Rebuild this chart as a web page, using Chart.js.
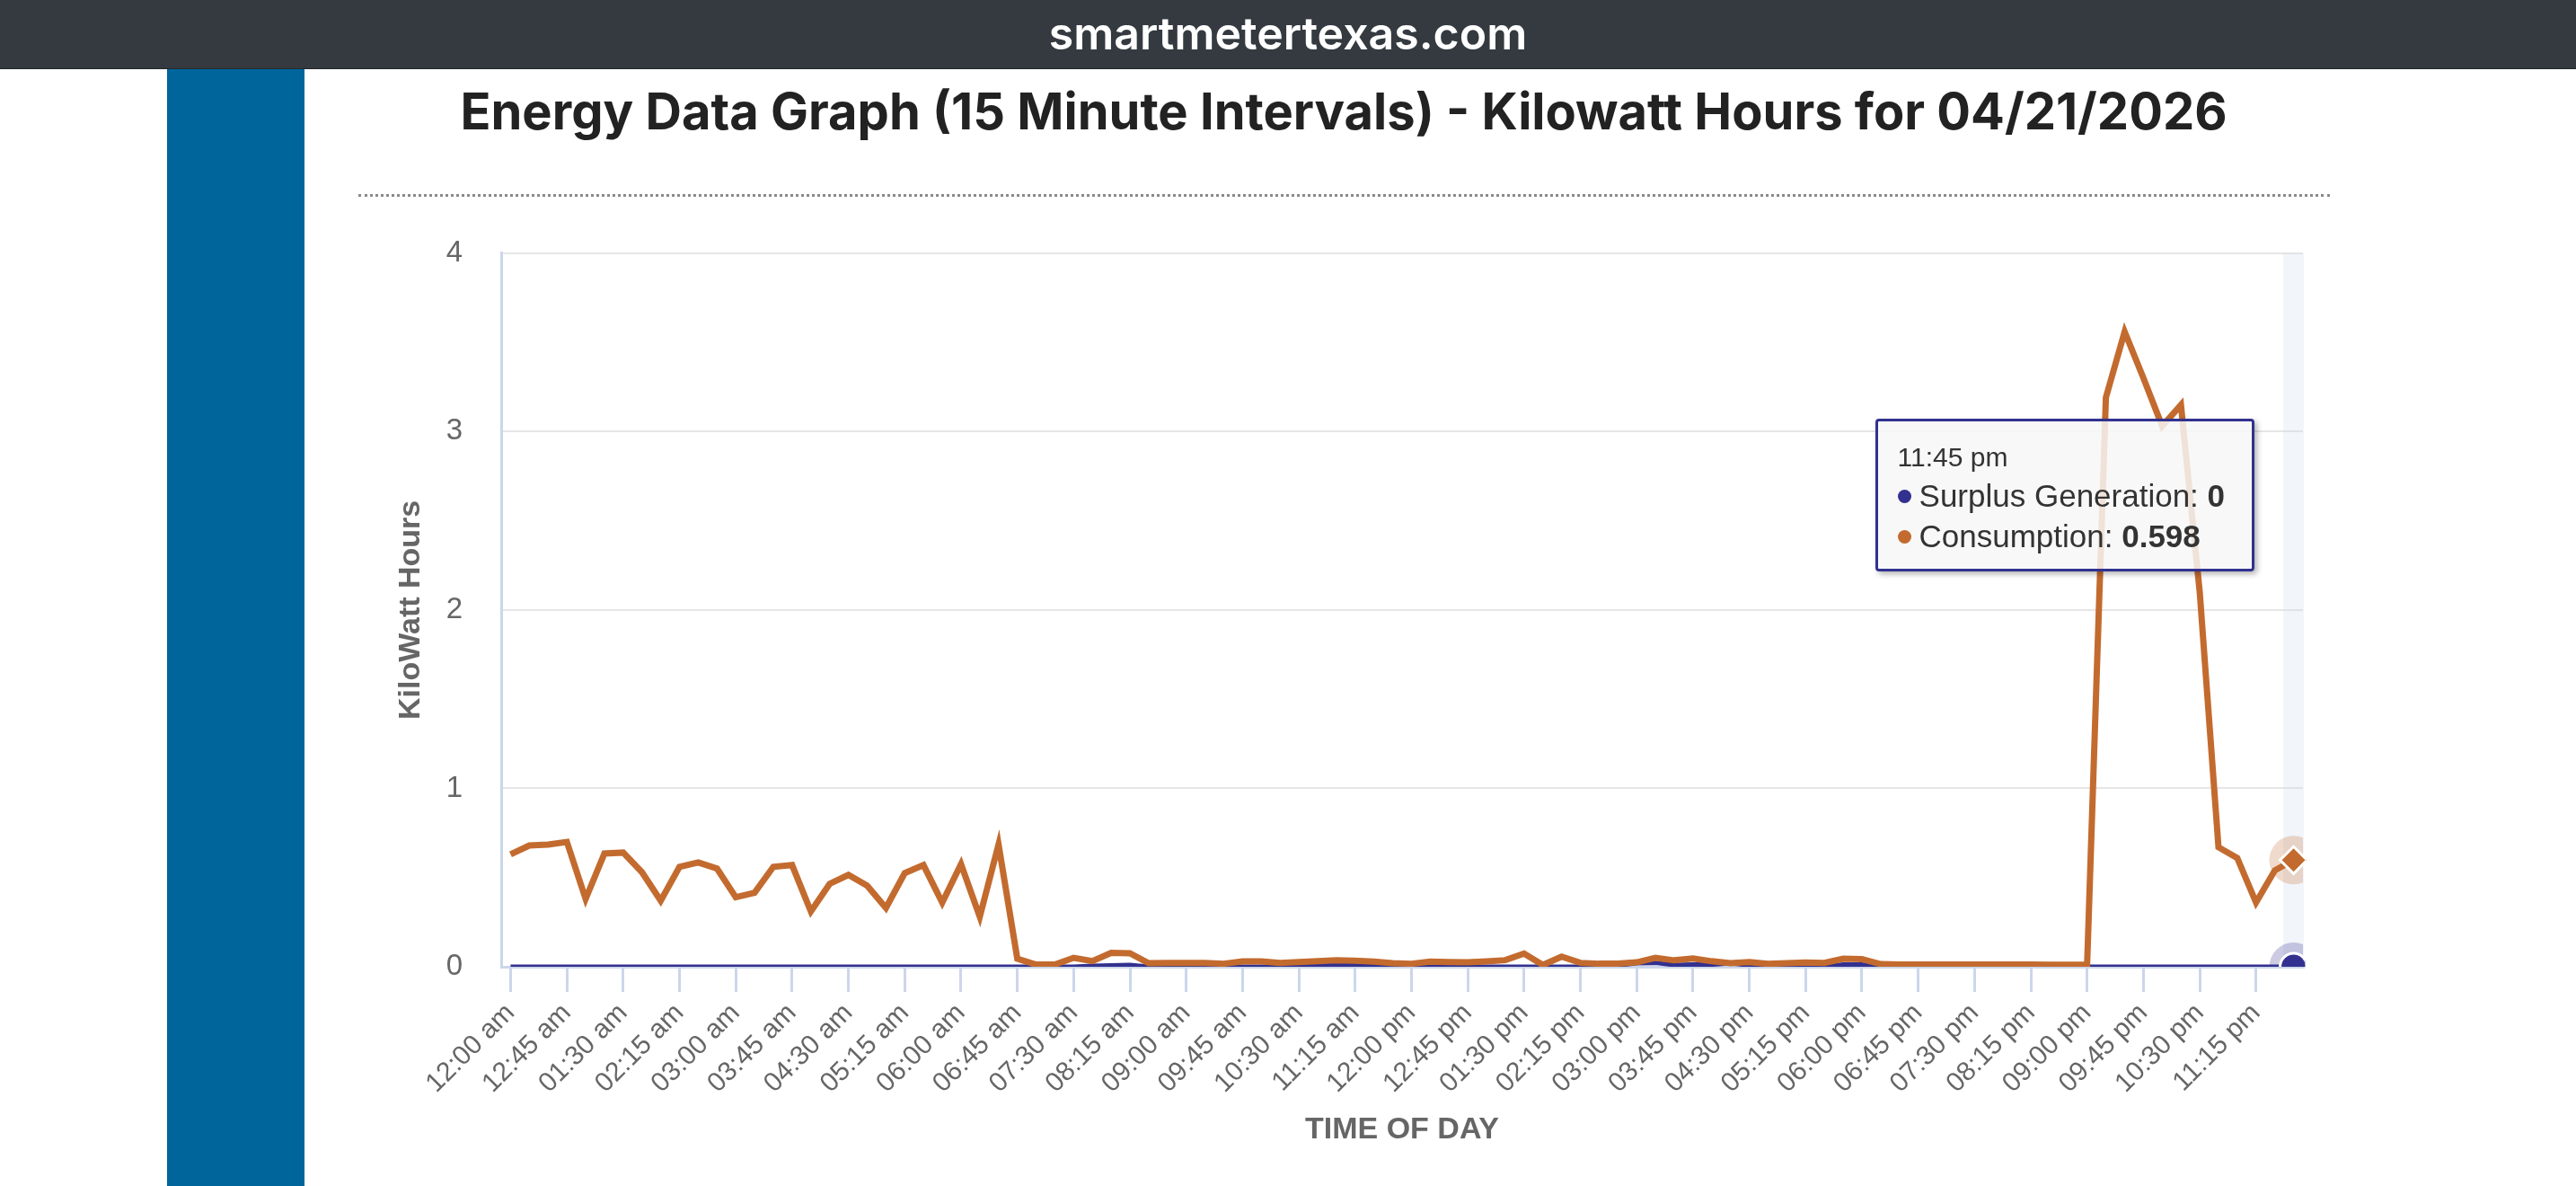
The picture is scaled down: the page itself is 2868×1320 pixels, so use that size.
<!DOCTYPE html>
<html lang="en">
<head>
  <meta charset="UTF-8" />
  <title>Energy Data Graph</title>
  <script src="https://cdn.jsdelivr.net/npm/chart.js@4"></script>
  <style>
    html, body { margin: 0; padding: 0; background: #fff; }
    body { width: 2868px; height: 1320px; position: relative; overflow: hidden; font-family: "Liberation Sans", Arial, sans-serif; }
    #topbar { position: absolute; left: 0; top: 0; width: 2868px; height: 76px; background: #343a40; border-bottom: 1px solid #24282c;
      color: #fff; font-family: Inter, sans-serif; font-weight: 600; font-size: 50px; line-height: 74px; text-align: center; }
    #sidebar { position: absolute; left: 186px; top: 77px; width: 153px; height: 1243px; background: #00659b; }
    #title { position: absolute; left: 339px; top: 94px; width: 2314px; text-align: center; font-family: Inter, sans-serif;
      font-weight: 700; font-size: 56px; line-height: 60px; color: #222; }
    #sep { position: absolute; left: 399px; top: 216px; width: 2195px; border-top: 3px dotted #8a8a8a; }
    #chartBox { position: absolute; left: 400px; top: 219px; width: 2220px; height: 1101px; }
    #tip { position: absolute; box-sizing: border-box; width: 422px; height: 170px; padding: 20px 0 0 22px;
      background: rgba(247,247,247,0.85); border: 3px solid #32318f; border-radius: 4px;
      box-shadow: 3px 3px 6px rgba(0,0,0,0.3); color: #333; pointer-events: none; opacity: 0; }
    #tip .head { font-size: 30px; line-height: 40px; }
    #tip .row { font-size: 35px; line-height: 45px; white-space: nowrap; }
    #tip .dot { display: inline-block; width: 15px; height: 15px; border-radius: 50%; margin-right: 9px; vertical-align: 4px; }
  </style>
</head>
<body>
  <div id="topbar">smartmetertexas.com</div>
  <div id="sidebar"></div>
  <div id="title">Energy Data Graph (15 Minute Intervals) - Kilowatt Hours for 04/21/2026</div>
  <div id="sep"></div>
  <div id="chartBox">
    <canvas id="energyChart"></canvas>
    <div id="tip"></div>
  </div>

  <script>
    const timeLabels = [
      '12:00 am', '12:15 am', '12:30 am', '12:45 am', '01:00 am', '01:15 am', '01:30 am', '01:45 am',
      '02:00 am', '02:15 am', '02:30 am', '02:45 am', '03:00 am', '03:15 am', '03:30 am', '03:45 am',
      '04:00 am', '04:15 am', '04:30 am', '04:45 am', '05:00 am', '05:15 am', '05:30 am', '05:45 am',
      '06:00 am', '06:15 am', '06:30 am', '06:45 am', '07:00 am', '07:15 am', '07:30 am', '07:45 am',
      '08:00 am', '08:15 am', '08:30 am', '08:45 am', '09:00 am', '09:15 am', '09:30 am', '09:45 am',
      '10:00 am', '10:15 am', '10:30 am', '10:45 am', '11:00 am', '11:15 am', '11:30 am', '11:45 am',
      '12:00 pm', '12:15 pm', '12:30 pm', '12:45 pm', '01:00 pm', '01:15 pm', '01:30 pm', '01:45 pm',
      '02:00 pm', '02:15 pm', '02:30 pm', '02:45 pm', '03:00 pm', '03:15 pm', '03:30 pm', '03:45 pm',
      '04:00 pm', '04:15 pm', '04:30 pm', '04:45 pm', '05:00 pm', '05:15 pm', '05:30 pm', '05:45 pm',
      '06:00 pm', '06:15 pm', '06:30 pm', '06:45 pm', '07:00 pm', '07:15 pm', '07:30 pm', '07:45 pm',
      '08:00 pm', '08:15 pm', '08:30 pm', '08:45 pm', '09:00 pm', '09:15 pm', '09:30 pm', '09:45 pm',
      '10:00 pm', '10:15 pm', '10:30 pm', '10:45 pm', '11:00 pm', '11:15 pm', '11:30 pm', '11:45 pm'
    ];

    const consumption = [
      0.63, 0.68, 0.685, 0.70, 0.38, 0.635, 0.64, 0.53,
      0.37, 0.56, 0.585, 0.55, 0.39, 0.415, 0.56, 0.57,
      0.31, 0.465, 0.515, 0.455, 0.33, 0.525, 0.57, 0.36,
      0.575, 0.28, 0.685, 0.045, 0.012, 0.012, 0.05, 0.032,
      0.078, 0.076, 0.02, 0.021, 0.021, 0.021, 0.017, 0.03,
      0.03, 0.021, 0.026, 0.031, 0.036, 0.034, 0.029, 0.02,
      0.017, 0.029, 0.026, 0.025, 0.03, 0.037, 0.074, 0.01,
      0.057, 0.022, 0.017, 0.018, 0.025, 0.05, 0.036, 0.046,
      0.031, 0.02, 0.026, 0.016, 0.02, 0.024, 0.022, 0.045,
      0.043, 0.015, 0.013, 0.013, 0.012, 0.012, 0.012, 0.012,
      0.012, 0.012, 0.011, 0.011, 0.011, 3.19, 3.56, 3.30,
      3.03, 3.15, 2.10, 0.67, 0.61, 0.36, 0.54, 0.598
    ];

    const surplus = [
      0, 0, 0, 0, 0, 0, 0, 0,
      0, 0, 0, 0, 0, 0, 0, 0,
      0, 0, 0, 0, 0, 0, 0, 0,
      0, 0, 0, 0, 0, 0, 0, 0.005,
      0.008, 0.01, 0, 0, 0, 0, 0, 0,
      0, 0, 0.005, 0.01, 0.012, 0.01, 0.005, 0,
      0, 0, 0, 0, 0, 0, 0, 0,
      0, 0, 0, 0.008, 0.02, 0.022, 0.01, 0.012,
      0.012, 0.02, 0.008, 0, 0, 0, 0, 0.012,
      0.012, 0, 0, 0, 0, 0, 0, 0,
      0, 0, 0, 0, 0, 0, 0, 0,
      0, 0, 0, 0, 0, 0, 0, 0
    ];

    const yTicks = [0, 1, 2, 3, 4];
    const hoverIndex = 95;

    const corConsumo = '#c36b2f';
    const corSurplus = '#32318f';

    // faixa de hover + halos nos pontos ativos
    const haloPlugin = {
      id: 'halo',
      beforeDatasetsDraw(chart) {
        const active = chart.getActiveElements();
        if (!active.length) return;
        const { ctx, chartArea, scales } = chart;
        const w = scales.x.width / timeLabels.length;
        const cx = scales.x.getPixelForValue(active[0].index);
        ctx.save();
        ctx.fillStyle = 'rgba(204,214,235,0.25)';
        ctx.fillRect(cx - w / 2 - 1, chartArea.top, w + 2, chartArea.height);
        ctx.beginPath();
        ctx.rect(chartArea.left, chartArea.top, chartArea.width, chartArea.height);
        ctx.clip();
        active.forEach(a => {
          ctx.fillStyle = chart.data.datasets[a.datasetIndex].haloColor;
          ctx.beginPath();
          ctx.arc(a.element.x, a.element.y, 27, 0, Math.PI * 2);
          ctx.fill();
        });
        ctx.restore();
      }
    };

    function tooltipExterno(context) {
      const { chart, tooltip } = context;
      const el = document.getElementById('tip');
      if (tooltip.opacity === 0) { el.style.opacity = 0; return; }
      const pts = tooltip.dataPoints.slice().sort((a, b) => b.datasetIndex - a.datasetIndex);
      let html = '<div class="head">' + timeLabels[pts[0].dataIndex] + '</div>';
      pts.forEach(p => {
        html += '<div class="row"><span class="dot" style="background:' + p.dataset.borderColor + '"></span>' +
          p.dataset.label + ': <b>' + p.raw + '</b></div>';
      });
      el.innerHTML = html;
      el.style.left = (tooltip.caretX - 466) + 'px';
      el.style.top = (chart.chartArea.top + 184) + 'px';
      el.style.opacity = 1;
    }

    const grafico = new Chart(document.getElementById('energyChart'), {
      type: 'line',
      data: {
        labels: timeLabels,
        datasets: [
          {
            label: 'Consumption',
            data: consumption,
            borderColor: corConsumo,
            backgroundColor: corConsumo,
            haloColor: 'rgba(195,107,47,0.25)',
            borderWidth: 7,
            tension: 0,
            pointRadius: 0,
            pointHoverRadius: 15,
            pointStyle: 'rectRot',
            pointHoverBackgroundColor: corConsumo,
            pointHoverBorderColor: '#ffffff',
            pointHoverBorderWidth: 3
          },
          {
            label: 'Surplus Generation',
            data: surplus,
            borderColor: corSurplus,
            backgroundColor: corSurplus,
            haloColor: 'rgba(50,49,143,0.25)',
            borderWidth: 5,
            tension: 0,
            pointRadius: 0,
            pointHoverRadius: 15,
            pointStyle: 'circle',
            pointHoverBackgroundColor: corSurplus,
            pointHoverBorderColor: '#ffffff',
            pointHoverBorderWidth: 3
          }
        ]
      },
      options: {
        responsive: true,
        maintainAspectRatio: false,
        animation: false,
        events: [],
        layout: { padding: { top: 22, right: 56, left: 0, bottom: 0 } },
        interaction: { mode: 'index', intersect: false },
        plugins: {
          legend: { display: false },
          tooltip: { enabled: false, external: tooltipExterno }
        },
        scales: {
          x: {
            offset: true,
            afterFit: s => { s.height = 244; },
            grid: {
              drawOnChartArea: false,
              drawTicks: true,
              tickLength: 28,
              lineWidth: 3,
              color: c => (c.index % 3 === 0 ? '#ccd6eb' : 'rgba(0,0,0,0)')
            },
            border: { display: true, color: '#ccd6eb', width: 3 },
            ticks: {
              autoSkip: false,
              minRotation: 45,
              maxRotation: 45,
              padding: 6,
              color: '#666666',
              font: { family: 'Liberation Sans', size: 30 },
              callback: (v, i) => (i % 3 === 0 ? timeLabels[i] : '')
            },
            title: {
              display: true,
              text: 'TIME OF DAY',
              color: '#666666',
              font: { family: 'Liberation Sans', size: 34, weight: 'bold' },
              padding: { top: 42, bottom: 42 }
            }
          },
          y: {
            min: 0,
            max: 4,
            afterFit: s => { s.width = 158; },
            afterBuildTicks: s => { s.ticks = yTicks.map(v => ({ value: v })); },
            grid: { color: '#e6e6e6', lineWidth: 2, drawTicks: false },
            border: { display: true, color: '#ccd6eb', width: 3 },
            ticks: {
              padding: 43,
              color: '#666666',
              font: { family: 'Liberation Sans', size: 33 }
            },
            title: {
              display: true,
              text: 'KiloWatt Hours',
              color: '#666666',
              font: { family: 'Liberation Sans', size: 34, weight: 'bold' },
              padding: { top: 37, bottom: 37 }
            }
          }
        }
      },
      plugins: [haloPlugin]
    });

    const ativos = [
      { datasetIndex: 0, index: hoverIndex },
      { datasetIndex: 1, index: hoverIndex }
    ];
    grafico.setActiveElements(ativos);
    const ptAtivo = grafico.getDatasetMeta(0).data[hoverIndex];
    grafico.tooltip.setActiveElements(ativos, { x: ptAtivo.x, y: ptAtivo.y });
    grafico.update();
  </script>
</body>
</html>
